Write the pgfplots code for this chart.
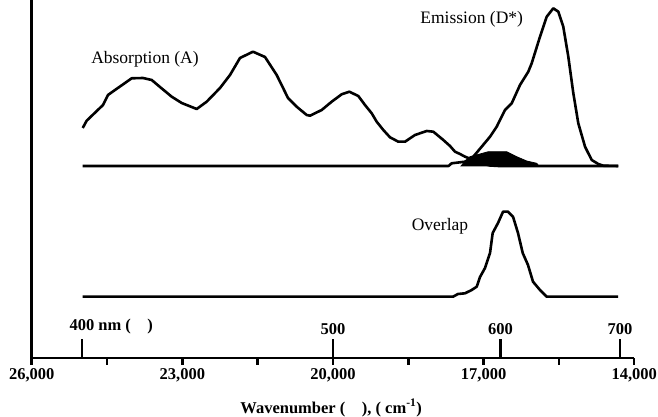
\documentclass[border=0pt]{standalone}
\usepackage{fontspec}
\setmainfont{Liberation Serif}
\usepackage{pgfplots}
\pgfplotsset{compat=1.18}
\begin{document}
\begin{tikzpicture}
\begin{axis}[
  scale only axis,
  width=602.6pt, height=358pt,
  xmin=14000, xmax=26000, x dir=reverse,
  ymin=0, ymax=358,
  axis x line=bottom, axis y line=left,
  axis line style={line width=2.6pt, -},
  ytick=\empty,
  scaled x ticks=false,
  xtick={14000,17000,20000,23000,26000},
  xticklabels={{14,000},{17,000},{20,000},{23,000},{26,000}},
  minor xtick={15500,18500,21500,24500},
  tick align=outside,
  major tick length=7pt, minor tick length=7pt,
  every tick/.style={line width=2.4pt, black},
  xticklabel style={font=\fontsize{16.5}{18}\selectfont\bfseries},
  extra x ticks={25000,20000,16666.67,14285.71},
  extra x tick labels={400\rlap{ nm (\quad)},500,600,700},
  extra x tick style={tick align=inside, major tick length=19pt,
    tick label style={anchor=south, yshift=20pt}},
  xlabel={Wavenumber (\quad), ( cm\textsuperscript{-1})},
  xlabel style={font=\fontsize{16.5}{18}\selectfont\bfseries,
    at={(rel axis cs:0.497,0)}, anchor=center, yshift=-50pt},
  clip=false,
]
% absorption (A)
\addplot[black, line width=2.6pt, line join=round] coordinates {
  (24984,230) (24905,237.3) (24580,253) (24481,263) (24341,268) (24142,275)
  (24009,279.7) (23784,280) (23610,278) (23445,271) (23212,261.3) (23013,255)
  (22714,249) (22515,256.3) (22250,270) (22051,283) (21852,300) (21593,306.3)
  (21354,301) (21121,283) (20896,260) (20723,251.3) (20524,243) (20458,242.3)
  (20225,248) (20026,256.3) (19827,263.7) (19675,266.3) (19496,262) (19363,253)
  (19229,244.7) (19130,236.3) (18998,228) (18865,220.7) (18700,216.3) (18566,216.3)
  (18367,223) (18134,227) (18002,226.3) (17803,218) (17670,212) (17570,206.3)
  (17471,204) (17371,201.3) (17206,198) (17072,195) (16873,192.5) (16700,192)
  (14321,192)
};
% emission (D*)
\addplot[black, line width=2.6pt, line join=round] coordinates {
  (24984,192) (17700,192) (17636,194.7) (17371,196.3) (17206,201.3) (17039,211.3)
  (16873,221.3) (16740,231.3) (16575,248) (16441,254.7) (16276,273) (16111,286.3)
  (16043,294.7) (15878,321.3) (15744,341.3) (15613,349.7) (15513,346.3) (15414,331.3)
  (15314,301.3) (15214,264.7) (15115,234.7) (14981,211.3) (14848,198) (14717,194)
  (14617,192.3) (14318,192)
};
% shaded overlap region
\addplot[black, fill=black, line width=0.8pt] coordinates {
  (17450,192) (17405,194.7) (17272,201.3) (17072,204) (16907,206.3) (16541,206.3)
  (16342,201.3) (16143,197) (15944,194.7) (15900,192)
} -- cycle;
% overlap spectrum
\addplot[black, line width=2.6pt, line join=round] coordinates {
  (24984,61.3) (17610,61.3) (17511,64) (17371,64.7) (17238,68) (17138,71.3)
  (17072,81) (16973,90) (16873,105) (16820,125) (16714,135) (16614,146.3)
  (16515,146.3) (16415,141.3) (16316,125) (16222,105) (16117,93) (16017,76.3)
  (15878,68) (15744,61.3) (14324,61.3)
};
\node[font=\fontsize{17.5}{20}\selectfont] at (axis cs:23744,299) {Absorption (A)};
\node[font=\fontsize{17.5}{20}\selectfont] at (axis cs:17238,338.7) {Emission (D*)};
\node[font=\fontsize{17.5}{20}\selectfont] at (axis cs:17869,131.3) {Overlap};
\end{axis}
\pgfresetboundingbox
\path ([shift={(-31.7pt,-59pt)}]current axis.south west) rectangle ([shift={(23.7pt,0pt)}]current axis.north east);
\end{tikzpicture}
\end{document}
